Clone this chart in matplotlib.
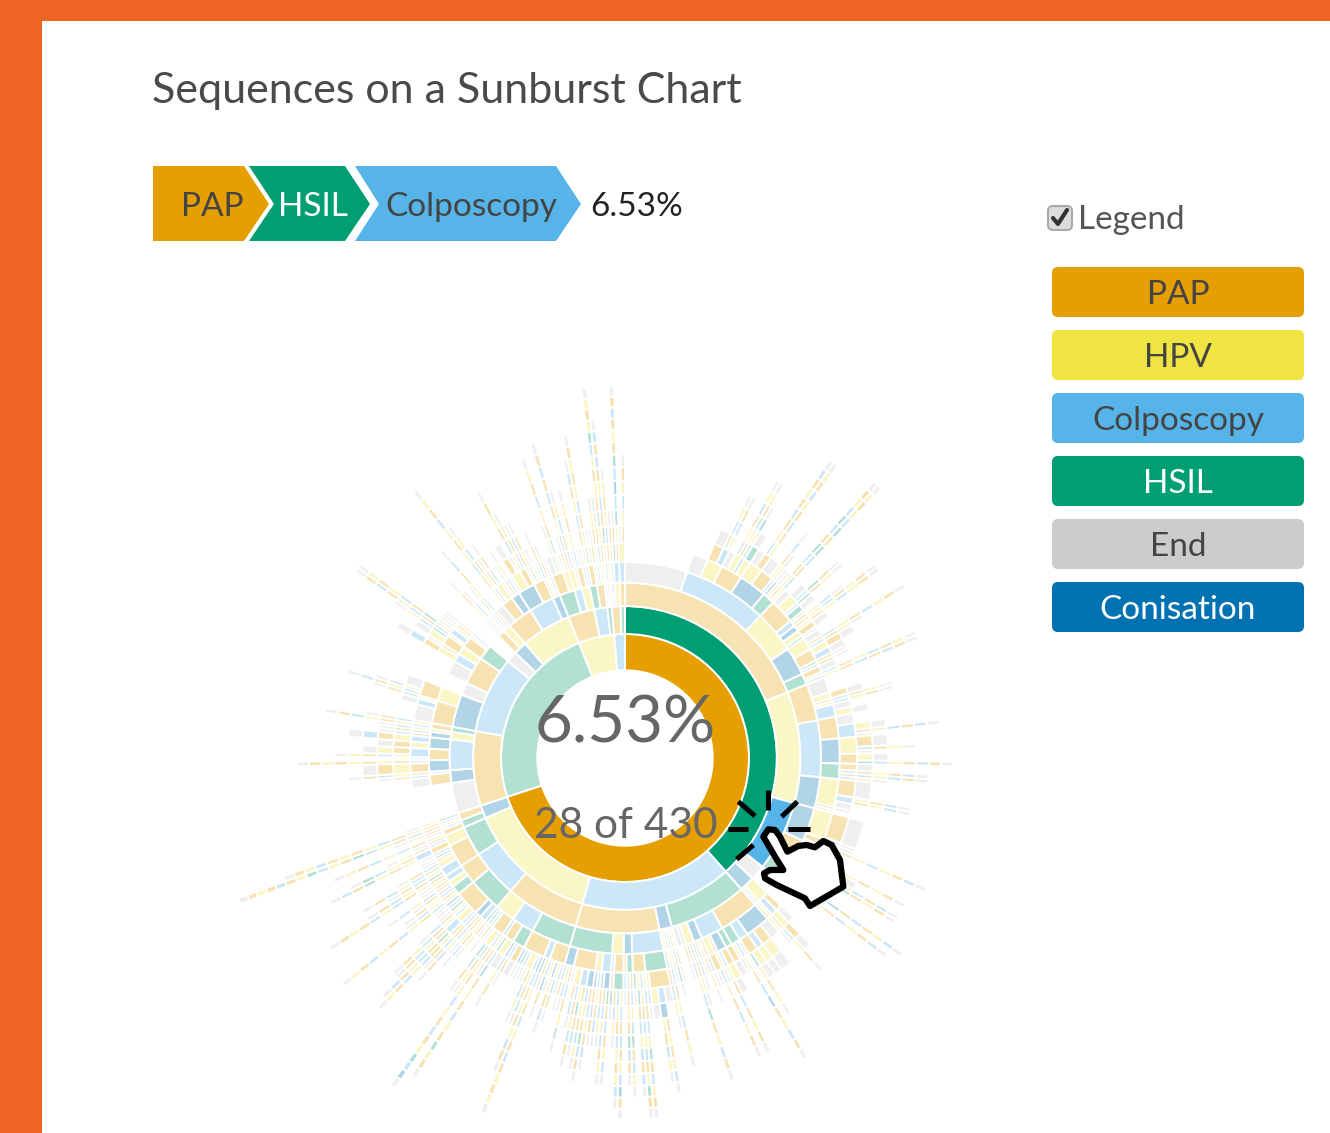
import numpy as np
import matplotlib
matplotlib.use("Agg")
import matplotlib.pyplot as plt
from matplotlib.colors import to_rgba
from matplotlib.patches import FancyBboxPatch, Polygon, Rectangle

plt.rcParams['font.family'] = ['Lato', 'DejaVu Sans']

#legend names and colours
names = ["PAP", "HPV", "Colposcopy", "HSIL", "End", "Conisation"]
keys = ["P", "V", "C", "H", "E", "N"]
colors = ["#E69F00", "#F0E442", "#56B4E9", "#009E73", "#CCCCCC", "#0072B2"]
legend_text = ["#444444", "#444444", "#444444", "#FFFFFF", "#444444", "#FFFFFF"]
selected = ["P", "PH", "PHC"]

#patient sequences and how many patients follow them, read clockwise from the top
pap_hsil_pap = [
    ("PHPE", 22), ("PHPCE", 5), ("PHPCVPE", 3), ("PHPCVCPCVE", 1), ("PHPCVCVCPE", 1),
    ("PHPCPE", 2), ("PHPCPVCVPCVE", 1), ("PHPCPVPVCPVE", 1), ("PHPCPHCVHE", 1), ("PHPCPVHE", 2),
    ("PHPCNVE", 2), ("PHPCNVPCVPCPVPCE", 1), ("PHPCNVPVPCPVCPVE", 1), ("PHPCNPE", 3),
    ("PHPCNPVPCE", 1), ("PHPCNCVE", 1), ("PHPCHNE", 1), ("PHPCHVE", 1),
    ("PHPCHPVPCHPCHCVPE", 1), ("PHPCHVCPCHPHCVPVE", 1),
    ("PHPVPE", 2), ("PHPVPVE", 2), ("PHPVPVCHPE", 1), ("PHPVPCHPVE", 1), ("PHPVPHE", 2),
    ("PHPVCE", 1), ("PHPVCPVCE", 1), ("PHPVNPVCPVPE", 1), ("PHPVNVPVCVPE", 1),
    ("PHPVVPE", 2), ("PHPVHE", 1),
    ("PHPNVE", 2), ("PHPNVPCVPCVPE", 1), ("PHPNVCPVE", 1), ("PHPNPVPE", 2), ("PHPNPCE", 2),
    ("PHPNHPE", 1), ("PHPNCPE", 1),
    ("PHPHPE", 2), ("PHPHVCPVCPVE", 1), ("PHPHCVPCPCPE", 1),
]
pap_hsil_hpv = [
    ("PHVPE", 5), ("PHVPVPE", 2), ("PHVPPCPVE", 1), ("PHVPVCVPE", 1), ("PHVPCE", 2), ("PHVPCVE", 2),
    ("PHVCPE", 3), ("PHVCPCVE", 2), ("PHVCPCPVCPCE", 1), ("PHVCPCE", 1),
    ("PHVCNVPE", 3), ("PHVCNVCPVE", 1), ("PHVCNVE", 1), ("PHVCNPVE", 2), ("PHVCNPHCVPCPE", 1),
    ("PHVCHPE", 2), ("PHVCHCPVPCE", 1), ("PHVCHPCVCPE", 1), ("PHVCHCVE", 1),
    ("PHVNVPE", 5), ("PHVNVCVPCE", 1), ("PHVNVCPVCE", 1), ("PHVNVE", 2), ("PHVNPE", 1), ("PHVNE", 1),
]
pap_hsil_colp = [
    ("PHCNVPE", 8), ("PHCNVCE", 1), ("PHCNPVE", 1), ("PHCNPHPVCVPCE", 1), ("PHCNE", 1),
    ("PHCPE", 3), ("PHCPVHPVPVPE", 1), ("PHCPVPCE", 2), ("PHCPVCPVCPCE", 1),
    ("PHCPCPVHPVPE", 1), ("PHCPCVE", 2),
    ("PHCHPE", 2), ("PHCHPVCNPCPVCE", 1), ("PHCHPVE", 1), ("PHCHCPVPCVPCE", 1), ("PHCHVCE", 1),
]
pap_hsil_rest = [
    ("PHE", 6),
    ("PHNVPE", 2), ("PHNVCVPE", 2), ("PHNPVPCVPE", 1), ("PHNCPVE", 1),
]
pap_colp = [
    ("PCHPNE", 3), ("PCHPNPVE", 3), ("PCHPNCVE", 2), ("PCHPCPVE", 2), ("PCHPCPHVPVE", 1),
    ("PCHPHE", 1), ("PCHPHCVPCNPVCPE", 1), ("PCHPHVE", 1),
    ("PCHCHPE", 2), ("PCHCNPVE", 2), ("PCHCNCVPCPVPE", 1), ("PCHCPVE", 1),
    ("PCHCVPCVPCVPE", 1), ("PCHCVPE", 1),
    ("PCHNPCE", 1), ("PCHNVPVE", 1), ("PCHNCE", 1),
    ("PCHVPCE", 1), ("PCHVCPVE", 1), ("PCHVPCVCHPVCPE", 1), ("PCHHPE", 1), ("PCHE", 2),
    ("PCNVPE", 1), ("PCNPCHE", 1), ("PCNCVE", 1), ("PCNPVCPVCPVE", 1), ("PCNVCPCVE", 1),
    ("PCPCHPE", 2), ("PCPCHPCNPVPVCE", 1), ("PCPCHPCNVPCVE", 1), ("PCPCHPVE", 2), ("PCPCHVCE", 1),
    ("PCPCPVCPCVHPCVPE", 1), ("PCPCPCVPCVCPVHPE", 1), ("PCPCPVHPCVCPCE", 1), ("PCPCPHE", 1),
    ("PCPNHPCVCHPCVE", 1), ("PCPNHCPVPHCPE", 1), ("PCPNPCE", 1),
    ("PCPVPHVCPCPVCNPE", 1), ("PCPVPHCVPCVPVCE", 1), ("PCPVPHPCVE", 1), ("PCPVCPHE", 1),
    ("PCPHCNHPCPVCE", 1), ("PCPHCNPCVCPVE", 1), ("PCPHCHPCVE", 1),
    ("PCPHVCVPCE", 1), ("PCPHVNPCPE", 1),
    ("PCPHPNPCVPCE", 1), ("PCPHPNCVPHCPE", 1), ("PCPHPCPVPCVE", 1), ("PCPHPCVHPCE", 1),
    ("PCPHPVCPVCPE", 1), ("PCPHPVPCE", 1), ("PCPHPE", 1),
    ("PCPHNPCPVCE", 1), ("PCPHNVCE", 1), ("PCPHNCPE", 1),
]
pap_hpv = [
    ("PVPHPCE", 1), ("PVPHPVCPE", 1), ("PVPHPNVPCE", 1), ("PVPHPVE", 1), ("PVPHPCNPE", 1),
    ("PVPHCPE", 1), ("PVPHCNCVPCVPCPVPVE", 1),
    ("PVPHPNCPVPVCPE", 1), ("PVPHPCVPCE", 1), ("PVPHPVPCVE", 1), ("PVPHPVE", 1),
    ("PVPHPCE", 1), ("PVPHPHE", 1), ("PVPHPNE", 1),
    ("PVPCHPE", 2), ("PVPCHCPE", 1), ("PVPCHNCVPE", 1), ("PVPCPVE", 2),
    ("PVPCPHCNPVPCVPHVPE", 1), ("PVPCNVPE", 1),
    ("PVPVPCPVPVCVPCPVHCNE", 1), ("PVPVPVCPVE", 1), ("PVPVPVHCPE", 1), ("PVPVPE", 1),
    ("PVPVCPE", 1), ("PVPVHE", 1), ("PVPVNPVE", 1),
    ("PVCHCVPCE", 1), ("PVCHCPVE", 1), ("PVCHNPCVCPE", 1), ("PVCHNCPCPE", 1),
    ("PVCHPCPVPCVCPVE", 1), ("PVCHPVCHPCVPCE", 1), ("PVCHPVCPVCPE", 1), ("PVCHPCVPCVPE", 1),
    ("PVCHPVPCE", 1), ("PVCHPHE", 1), ("PVCHPCE", 1), ("PVCHPNE", 1),
    ("PVCPHVCPVCPVCPVE", 1), ("PVCPHPVCE", 1), ("PVCPHCVPE", 1), ("PVCPVCPE", 1),
    ("PVCPVPCVCE", 1), ("PVCPCPE", 1), ("PVCPCVE", 1),
    ("PVHPCPVPCVCPVPE", 1), ("PVHPCHPVCPE", 1), ("PVHPCVCPE", 1), ("PVHPVPCVCPE", 1),
    ("PVHPVCPE", 1), ("PVHPPE", 1), ("PVHPHE", 1), ("PVHPCE", 1),
    ("PVHVPCVPVHPCE", 1), ("PVHVPCPVCHE", 1), ("PVHVCPVE", 1), ("PVHVPE", 1),
]
pap_conisation = [
    ("PNHPVPCVCPVE", 1), ("PNHPE", 1), ("PNHCPVE", 1),
    ("PNPVPCPVCHPVCHVPCPVPE", 1), ("PNPCPVPCVPVPCVPE", 1), ("PNPHVE", 1),
]
hsil_start = [
    ("HPE", 12),
    ("HPNPE", 3), ("HPNPCPE", 1), ("HPNCPVCPE", 1),
    ("HPCNPVPE", 3), ("HPCNCPVPVPVPE", 1), ("HPCPE", 1), ("HPCPCVCPVE", 1), ("HPCPCPVE", 2),
    ("HPCNVPE", 2), ("HPCNCVPCE", 2),
    ("HPVNPCE", 1), ("HPVNCPE", 1), ("HPVPVCE", 1),
    ("HPHPCVPVCPE", 1), ("HPHPVCPE", 1),
    ("HCNPE", 5), ("HCNPCE", 2), ("HCNPVCPE", 1),
    ("HCNVPCVPCE", 1), ("HCNVPVCE", 1), ("HCNVPE", 3),
    ("HCE", 5),
    ("HCPE", 5), ("HCPCVPCE", 2), ("HCPCPE", 1), ("HCPVPVE", 2), ("HCPVPHCVE", 1),
    ("HCHPVCPCVPCPE", 1), ("HCHPCVHPCVPVE", 1), ("HCHPCE", 1), ("HCHPVE", 1), ("HCHVPE", 1), ("HCHCVE", 1),
    ("HE", 5),
    ("HNPE", 1), ("HNPCVPE", 1), ("HNPVCE", 1), ("HNVE", 1), ("HNVCPE", 1), ("HNVPCVPCE", 1),
    ("HVPE", 3), ("HVPPVPCVPVCPVE", 1), ("HVPPCVPCVE", 1), ("HVPPVPE", 1), ("HVPPVCPE", 1),
    ("HVPNE", 1), ("HVPNPE", 1), ("HVPNCVE", 1),
    ("HVCNE", 1), ("HVCNVPE", 2), ("HVCNVE", 1), ("HVCNPVCPVPE", 1), ("HVCNPCPVE", 1),
    ("HVCPVPCE", 1), ("HVCPCVPE", 1), ("HVCPVE", 1), ("HVCPE", 1),
    ("HVNPCPE", 1), ("HVNVPE", 1), ("HVNCE", 1),
]
hpv_start = [
    ("VPHPE", 2), ("VPHPCVE", 1), ("VPHPVCPVCPVE", 1), ("VPHVE", 1), ("VPHVPE", 1),
    ("VPCVPCVPCPCPE", 1), ("VPCVCPCVE", 1), ("VPCPE", 1),
    ("VPVPCVPVE", 1), ("VPVPE", 1), ("VPVCE", 1),
    ("VCHCVPCVPCE", 1), ("VCHPCVPCVPVPE", 1), ("VCHPVE", 1),
    ("VCPVPE", 1), ("VCPCVPVE", 1), ("VCPVCPVE", 1),
    ("VHCVPVCPVPVCHVPVE", 1), ("VHPCVHPCVPCPCE", 1),
]
colp_start = [
    ("CPCVPCVPVE", 1), ("CPHCVPE", 1), ("CPVCHPE", 1), ("CPVCPVHCNCHPVPCPE", 1),
    ("CHPCVE", 1), ("CHPCVPVCVPE", 1),
]

rows = (pap_hsil_pap + pap_hsil_hpv + pap_hsil_colp + pap_hsil_rest + pap_colp + pap_hpv
        + pap_conisation + hsil_start + hpv_start + colp_start)
total = sum(n for s, n in rows)

#group neighbouring rows that share a prefix, one ring at a time
thetas, widths, bottoms, heights, faces = [], [], [], [], []
color_of = dict(zip(keys, colors))
deepest = max(len(s) for s, n in rows)
for depth in range(1, deepest + 1):
    pos = 0
    run = None
    segs = []
    for s, n in rows:
        if len(s) >= depth:
            pre = s[:depth]
            if run is not None and run[0] == pre and run[2] == pos:
                run[2] = pos + n
            else:
                run = [pre, pos, pos + n]
                segs.append(run)
        pos += n
    for pre, a, b in segs:
        thetas.append((a + b) / 2 / total * 2 * np.pi)
        widths.append((b - a) / total * 2 * np.pi)
        bottoms.append(np.sqrt(depth))
        heights.append(np.sqrt(depth + 1) - np.sqrt(depth))
        alpha = 1.0 if pre in selected else 0.3
        faces.append(to_rgba(color_of[pre[-1]], alpha))

fig = plt.figure(figsize=(13.3, 11.33), dpi=100)
W, H = 1330, 1133

#center of the sunburst in pixels, one unit of sqrt(depth) is 87.7 px
cx, cy, unit, rmax = 625, 758, 87.7, 430
ax = fig.add_axes([(cx - rmax) / W, (H - cy - rmax) / H, 2 * rmax / W, 2 * rmax / H], projection="polar")
ax.set_theta_zero_location("N")
ax.set_theta_direction(-1)
ax.set_rlim(0, rmax / unit)
ax.set_axis_off()
ax.bar(thetas, heights, width=widths, bottom=bottoms, color=faces, edgecolor="white", linewidth=1.4)

#overlay in pixel coordinates for the page around the chart
top = fig.add_axes([0, 0, 1, 1])
top.set_xlim(0, W)
top.set_ylim(H, 0)
top.axis("off")
top.patch.set_alpha(0)
band = "#EE6423"
top.add_patch(Rectangle((0, 0), W, 21, color=band, lw=0))
top.add_patch(Rectangle((0, 0), 42, H, color=band, lw=0))

top.text(152, 91, "Sequences on a Sunburst Chart", fontsize=31, color="#4A4A4A", va="center", ha="left")

#breadcrumb
crumbs = [
    ("PAP", "#E69F00", "#444444", [(153, 166), (244, 166), (269, 204), (244, 241), (153, 241)], 212),
    ("HSIL", "#009E73", "#FFFFFF", [(249, 166), (345, 166), (370, 204), (345, 241), (249, 241), (274, 204)], 313),
    ("Colposcopy", "#56B4E9", "#444444", [(355, 166), (556, 166), (581, 204), (556, 241), (355, 241), (379, 204)], 471),
]
for label, fc, tc, pts, tx in crumbs:
    top.add_patch(Polygon(pts, closed=True, fc=fc, ec="none"))
    top.text(tx, 207, label, fontsize=24, color=tc, ha="center", va="center")
top.text(590, 207, "6.53%", fontsize=24, color="#222222", ha="left", va="center")

#legend
top.add_patch(FancyBboxPatch((1048, 206), 24, 24, boxstyle="round,pad=0,rounding_size=5", fc="#DDDDDD", ec="#AAAAAA", lw=1.5))
top.plot([1053, 1058, 1067], [218, 224, 210], color="#333333", lw=3, solid_capstyle="round")
top.text(1078, 220, "Legend", fontsize=24, color="#555555", ha="left", va="center")
for i, (name, fc, tc) in enumerate(zip(names, colors, legend_text)):
    y0 = 267 + i * 63
    top.add_patch(FancyBboxPatch((1052, y0), 252, 50, boxstyle="round,pad=0,rounding_size=6", fc=fc, ec="none"))
    top.text(1178, y0 + 28, name, fontsize=24, color=tc, ha="center", va="center")

#text in the hole
top.text(625, 724, "6.53%", fontsize=47, color="#666666", ha="center", va="center")
top.text(626, 826, "28 of 430", fontsize=30.5, color="#666666", ha="center", va="center")

#pointer drawn on top of the chart
hand_x = [205, 225, 240, 262, 295, 320, 345, 370, 395, 420, 430, 330, 315, 230, 195, 192, 210, 250, 225, 190]
hand_y = [178, 180, 200, 245, 228, 225, 232, 213, 225, 270, 350, 408, 385, 345, 325, 310, 300, 300, 260, 200]
hand = [(700 + x / 3, 770 + y / 3) for x, y in zip(hand_x, hand_y)]
top.add_patch(Polygon(hand, closed=True, fc="white", ec="black", lw=4.5, joinstyle="round"))
sparks = [((205, 60), (205, 120)), ((115, 95), (165, 138)), ((85, 178), (145, 178)),
          ((110, 268), (160, 225)), ((245, 140), (292, 95)), ((265, 178), (330, 178))]
for p, q in sparks:
    top.plot([700 + p[0] / 3, 700 + q[0] / 3], [770 + p[1] / 3, 770 + q[1] / 3], color="black", lw=3.6, solid_capstyle="butt")

fig.savefig("out.png", dpi=100)
